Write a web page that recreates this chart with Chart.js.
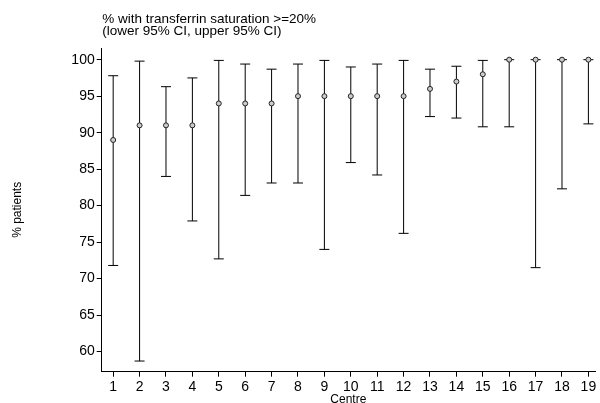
<!DOCTYPE html>
<html>
<head>
<meta charset="utf-8">
<script src="https://cdn.jsdelivr.net/npm/chart.js@4/dist/chart.umd.min.js"></script>
<style>
  html, body { margin: 0; padding: 0; background: #fff; }
  #wrap { width: 600px; height: 403px; position: relative; }
</style>
</head>
<body>
<div id="wrap"><canvas id="chart"></canvas></div>
<script>
var centres = [1, 2, 3, 4, 5, 6, 7, 8, 9, 10, 11, 12, 13, 14, 15, 16, 17, 18, 19];
var percent = [89, 91, 91, 91, 94, 94, 94, 95, 95, 95, 95, 95, 96, 97, 98, 100, 100, 100, 100];
var lower95 = [71.8, 58.7, 84.0, 77.9, 72.7, 81.4, 83.1, 83.1, 74.0, 85.9, 84.2, 76.2, 92.2, 92.0, 90.8, 90.8, 71.5, 82.3, 91.2];
var upper95 = [97.8, 99.8, 96.3, 97.5, 99.9, 99.4, 98.7, 99.4, 99.9, 99.0, 99.4, 99.9, 98.7, 99.1, 99.9, 100, 100, 100, 100];
var yTicks = [60, 65, 70, 75, 80, 85, 90, 95, 100];
var titleLines = ['% with transferrin saturation >=20%', '(lower 95% CI, upper 95% CI)'];

var FONT = "'Liberation Sans', Arial, sans-serif";

// whiskers drawn behind the points, positions from the chart's own scales
var errorBars = {
    id: 'errorBars',
    beforeDatasetsDraw: function(chart) {
        var ctx = chart.ctx;
        var xs = chart.scales.x;
        var ys = chart.scales.y;
        ctx.save();
        ctx.strokeStyle = '#000';
        ctx.lineWidth = 1;
        for (var i = 0; i < centres.length; i++) {
            var x = xs.getPixelForValue(centres[i]);
            var yl = ys.getPixelForValue(lower95[i]);
            var yu = ys.getPixelForValue(upper95[i]);
            ctx.beginPath();
            ctx.moveTo(x, yu);
            ctx.lineTo(x, yl);
            ctx.moveTo(x - 5, yu);
            ctx.lineTo(x + 5, yu);
            ctx.moveTo(x - 5, yl);
            ctx.lineTo(x + 5, yl);
            ctx.stroke();
        }
        ctx.restore();
    }
};

var topTitle = {
    id: 'topTitle',
    afterDraw: function(chart) {
        var ctx = chart.ctx;
        ctx.save();
        ctx.fillStyle = '#000';
        ctx.font = '13.5px ' + FONT;
        ctx.textAlign = 'left';
        ctx.textBaseline = 'middle';
        ctx.fillText(titleLines[0], chart.chartArea.left + 0.5, 19);
        ctx.fillText(titleLines[1], chart.chartArea.left + 0.5, 31.5);
        ctx.restore();
    }
};

var points = [];
for (var i = 0; i < centres.length; i++) {
    points.push({ x: centres[i], y: percent[i] });
}

new Chart(document.getElementById('chart'), {
    type: 'scatter',
    data: {
        datasets: [{
            label: '% patients',
            data: points,
            pointRadius: 2.5,
            pointBorderWidth: 1,
            pointBorderColor: '#222',
            pointBackgroundColor: '#ccc'
        }]
    },
    options: {
        responsive: true,
        maintainAspectRatio: false,
        animation: false,
        layout: { padding: { top: 48, left: 0, right: 0, bottom: 0 } },
        plugins: {
            legend: { display: false },
            tooltip: { enabled: false }
        },
        scales: {
            x: {
                type: 'linear',
                min: 0.565,
                max: 19.25,
                afterBuildTicks: function(scale) {
                    scale.ticks = centres.map(function(v) { return { value: v }; });
                },
                afterFit: function(scale) {
                    scale.height = 31.3;
                    scale.paddingLeft = 0;
                    scale.paddingRight = 0;
                },
                grid: { display: true, drawOnChartArea: false, drawTicks: true, tickLength: 5, color: '#000' },
                border: { display: true, color: '#000', width: 1 },
                ticks: { color: '#000', padding: 2, maxRotation: 0, autoSkip: false, font: { family: FONT, size: 14 } },
                title: { display: true, text: 'Centre', color: '#000', font: { family: FONT, size: 12, lineHeight: 1 }, padding: { top: 0, bottom: -3 } }
            },
            y: {
                min: 57.24,
                max: 101.6,
                afterBuildTicks: function(scale) {
                    scale.ticks = yTicks.map(function(v) { return { value: v }; });
                },
                afterFit: function(scale) {
                    scale.width = 101.7;
                    scale.paddingTop = 0;
                    scale.paddingBottom = 0;
                },
                grid: { display: true, drawOnChartArea: false, drawTicks: true, tickLength: 5, color: '#000' },
                border: { display: true, color: '#000', width: 1 },
                ticks: { color: '#000', padding: 2, font: { family: FONT, size: 14 } },
                title: { display: true, text: '% patients', color: '#000', font: { family: FONT, size: 12, lineHeight: 1 }, padding: { top: 12, bottom: 0 } }
            }
        }
    },
    plugins: [errorBars, topTitle]
});
</script>
</body>
</html>
